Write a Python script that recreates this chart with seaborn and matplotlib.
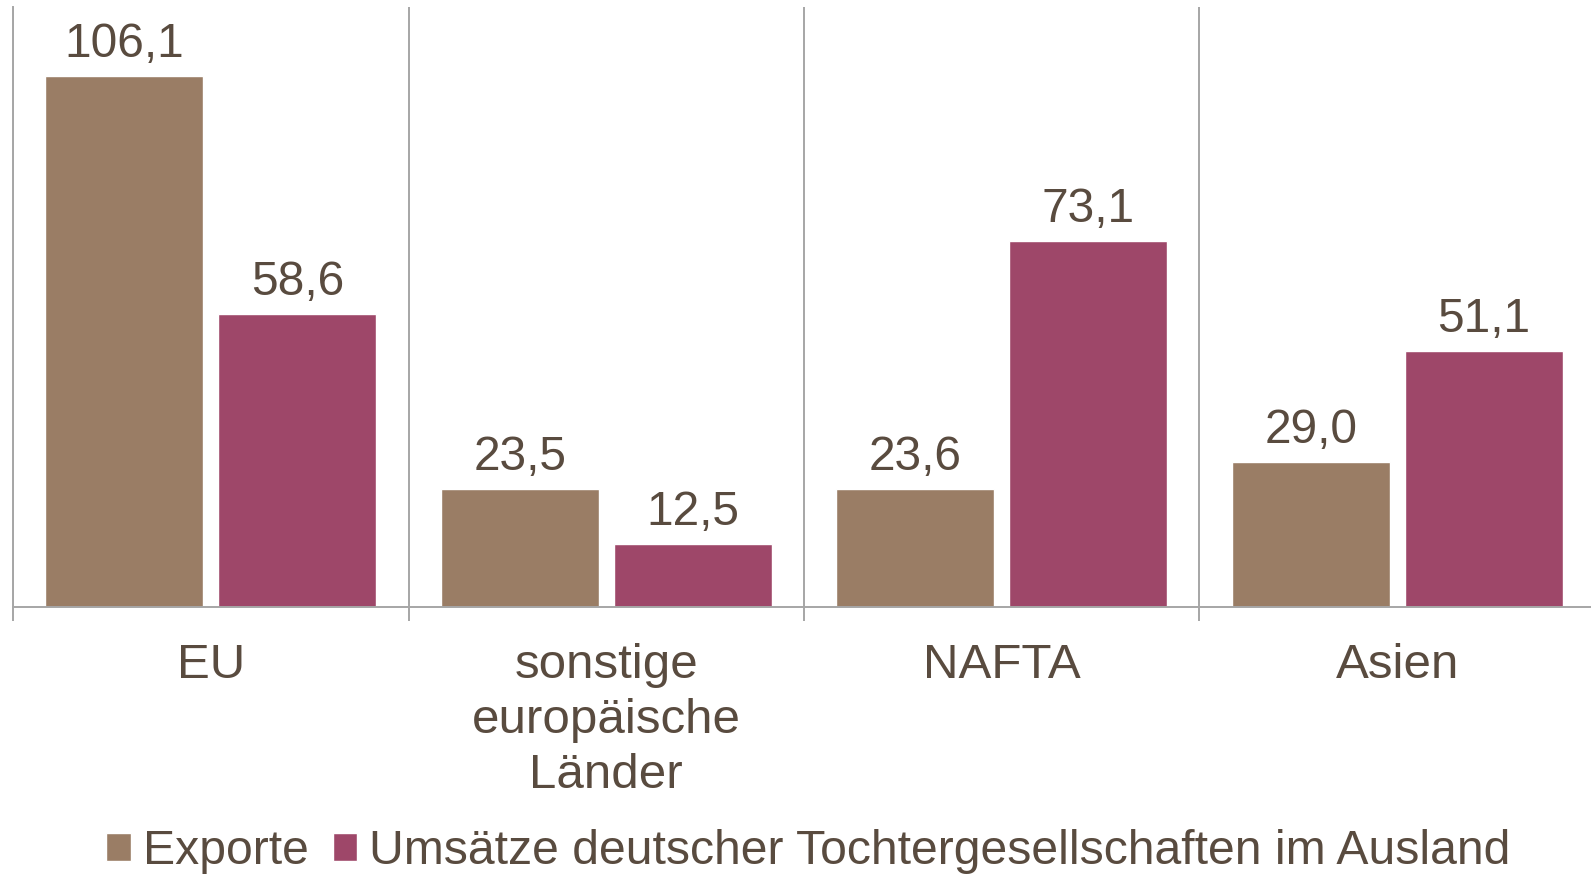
import numpy as np
import pandas as pd
import matplotlib
matplotlib.use("Agg")
import matplotlib.pyplot as plt
import seaborn as sns
from matplotlib.patches import Patch

# data
regions = ["EU", "sonstige\neuropäische\nLänder", "NAFTA", "Asien"]
exporte = [106.1, 23.5, 23.6, 29.0]
umsaetze = [58.6, 12.5, 73.1, 51.1]
series = ["Exporte", "Umsätze deutscher Tochtergesellschaften im Ausland"]

brown = "#9A7D65"
purple = "#9E4769"
text_col = "#594B3F"
grey = "#A6A6A6"

df = pd.DataFrame({
    "region": regions * 2,
    "serie": [series[0]] * 4 + [series[1]] * 4,
    "wert": exporte + umsaetze,
})

sns.set_theme(style="white")
plt.rcParams["font.family"] = ["Liberation Sans", "DejaVu Sans"]

fig = plt.figure(figsize=(15.91, 8.75), dpi=100)
ax = fig.add_axes([0.0082, 0.3063, 0.9943, 0.6857])

sns.barplot(data=df, x="region", y="wert", hue="serie", order=regions,
            hue_order=series, palette=[brown, purple], width=0.876, gap=0.087,
            saturation=1, errorbar=None, legend=False, ax=ax)

for cont in ax.containers:
    ax.bar_label(cont, labels=[f"{v:.1f}".replace(".", ",") for v in cont.datavalues],
                 padding=6.5, fontsize=34.5, color=text_col)

ax.set_xlim(-0.5, 3.5)
ax.set_ylim(0, 120)
ax.set_xlabel("")
ax.set_ylabel("")
ax.set_yticks([])

# category separators
ax.set_xticks(np.arange(-0.5, 4, 1), minor=True)
ax.grid(which="minor", axis="x", color=grey, linewidth=1.4)
ax.grid(which="major", visible=False)
ax.tick_params(axis="x", which="minor", length=10, width=1.4, color=grey, bottom=True)
ax.tick_params(axis="x", which="major", length=0, pad=26, labelsize=35.5, labelcolor=text_col)
for lbl in ax.get_xticklabels():
    lbl.set_linespacing(1.29)

for s in ["top", "right"]:
    ax.spines[s].set_visible(False)
for s in ["left", "bottom"]:
    ax.spines[s].set_color(grey)
    ax.spines[s].set_linewidth(1.4)

handles = [Patch(facecolor=brown, label=series[0]), Patch(facecolor=purple, label=series[1])]
fig.legend(handles=handles, loc="center", bbox_to_anchor=(0.508, 0.027), ncol=2,
           frameon=False, fontsize=34.7, labelcolor=text_col, handlelength=0.5,
           handleheight=0.5, handletextpad=0.25, columnspacing=0.5, borderaxespad=0)

fig.savefig("out.png", dpi=100)
